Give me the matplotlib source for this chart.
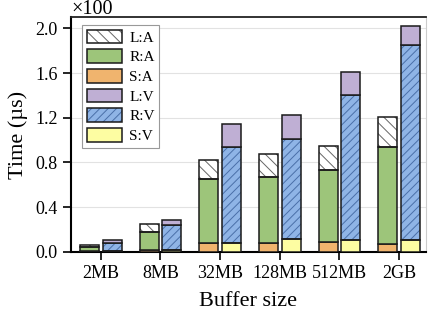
import matplotlib
matplotlib.use("Agg")
import matplotlib.pyplot as plt
import numpy as np
from matplotlib.legend_handler import HandlerTuple

plt.rcParams['font.family'] = ['Liberation Serif', 'DejaVu Serif']
plt.rcParams['hatch.linewidth'] = 0.7

# time breakdown, in units of 100 us
sizes = ['2MB', '8MB', '32MB', '128MB', '512MB', '2GB']
s_a = [0.01, 0.02, 0.08, 0.08, 0.087, 0.07]
r_a = [0.03, 0.16, 0.57, 0.59, 0.65, 0.865]
l_a = [0.02, 0.07, 0.17, 0.21, 0.21, 0.275]
s_v = [0.01, 0.02, 0.08, 0.115, 0.107, 0.107]
r_v = [0.07, 0.22, 0.855, 0.895, 1.30, 1.743]
l_v = [0.03, 0.05, 0.21, 0.215, 0.20, 0.17]

c_green = '#9dc57a'
c_orange = '#f0b46e'
c_purple = '#bfafd4'
c_blue = '#8fb4e6'
c_yellow = '#fdfda2'

x = np.arange(len(sizes))
w = 0.32
off = 0.19

fig = plt.figure(figsize=(4.29, 3.23), dpi=100)
ax = fig.add_axes([0.1655, 0.22, 0.8275, 0.727])


def stack(xpos, segs):
    bottom = np.zeros(len(xpos))
    handles = []
    for vals, fc, hatch, hc in segs:
        vals = np.array(vals)
        if hatch:
            h1 = ax.bar(xpos, vals, w, bottom=bottom, color=fc, hatch=hatch,
                        edgecolor=hc, linewidth=0, zorder=2)
            h2 = ax.bar(xpos, vals, w, bottom=bottom, color='none',
                        edgecolor='#1a1a1a', linewidth=1.1, zorder=3)
            handles.append((h1[0], h2[0]))
        else:
            h = ax.bar(xpos, vals, w, bottom=bottom, color=fc,
                       edgecolor='#1a1a1a', linewidth=1.1, zorder=3)
            handles.append(h[0])
        bottom += vals
    return handles


ha = stack(x - off, [(s_a, c_orange, None, None),
                     (r_a, c_green, None, None),
                     (l_a, 'white', '\\\\\\', '#666666')])
hv = stack(x + off, [(s_v, c_yellow, None, None),
                     (r_v, c_blue, '////', '#4a6fa8'),
                     (l_v, c_purple, None, None)])

ax.set_xlim(-0.5, 5.45)
ax.set_ylim(0, 2.1)
ax.set_yticks(np.arange(0, 2.01, 0.4))
ax.set_yticklabels(['%.1f' % v for v in np.arange(0, 2.01, 0.4)])
ax.set_xticks(x)
ax.set_xticklabels(sizes)
ax.yaxis.grid(True, color='#e2e2e2', linewidth=0.8, zorder=0)
ax.set_axisbelow(True)

ax.tick_params(axis='both', direction='out', length=5.5, width=1.2,
               labelsize=13, pad=4)
for s in ['left', 'bottom']:
    ax.spines[s].set_linewidth(1.5)
ax.spines['top'].set_linewidth(1.3)
ax.spines['top'].set_color('#222222')
ax.spines['right'].set_linewidth(0.8)
ax.spines['right'].set_color('#cccccc')

ax.set_xlabel('Buffer size', fontsize=16, labelpad=7)
ax.set_ylabel('Time (µs)', fontsize=16, labelpad=5)
ax.text(0.0, 1.012, '×100', transform=ax.transAxes, fontsize=14.5,
        ha='left', va='baseline')

handles = [ha[2], ha[1], ha[0], hv[2], hv[1], hv[0]]
labels = ['L:A', 'R:A', 'S:A', 'L:V', 'R:V', 'S:V']
leg = ax.legend(handles, labels, loc='upper left',
                bbox_to_anchor=(11 / 355, 1 - 8 / 235), borderaxespad=0,
                fontsize=11, handlelength=2.3, handleheight=1.0,
                labelspacing=0.3, handletextpad=0.5, borderpad=0.3,
                fancybox=False, edgecolor='#999999', framealpha=1,
                handler_map={tuple: HandlerTuple(ndivide=1, pad=0)})
leg.get_frame().set_linewidth(0.8)

fig.savefig('out.png', dpi=100)
